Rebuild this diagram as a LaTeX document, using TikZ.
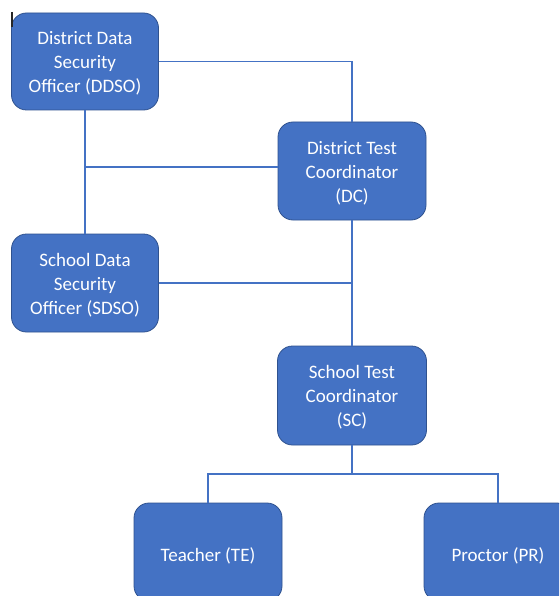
\documentclass[tikz,border=0pt]{standalone}
\usepackage{fontspec}
\setmainfont{Carlito}
\definecolor{boxblue}{HTML}{4472C4}
\definecolor{boxedge}{HTML}{2F528F}
\definecolor{linkblue}{HTML}{4472C4}
\begin{document}
\begin{tikzpicture}[x=1pt,y=-1pt,
  rolebox/.style={draw=boxedge, line width=0.8pt, fill=boxblue, rounded corners=15pt,
    inner sep=0pt},
  roletext/.style={text=white, align=center, inner sep=0pt, yshift=-2pt,
    font=\fontsize{19}{24}\selectfont},
  link/.style={draw=linkblue, line width=1.4pt}]
\useasboundingbox (0,0) rectangle (559,596);
\clip (0,0) rectangle (559,596);
\fill[white] (0,0) rectangle (559,596);
\node[rolebox, minimum width=147pt, minimum height=97pt] (ddso) at (85,61.5) {};
\node[rolebox, minimum width=148pt, minimum height=98pt] (dc) at (352,171) {};
\node[rolebox, minimum width=147pt, minimum height=98pt] (sdso) at (85,283) {};
\node[rolebox, minimum width=149pt, minimum height=99pt] (sc) at (352,395.5) {};
\node[rolebox, minimum width=148pt, minimum height=98pt] (te) at (208,552) {};
\node[rolebox, minimum width=148pt, minimum height=98pt] (pr) at (498,552) {};
\node[roletext] (ddsot) at (ddso.center) {District Data\\Security\\Officer (DDSO)};
\node[roletext] (dct) at (dc.center) {District Test\\Coordinator\\(DC)};
\node[roletext] (sdsot) at (sdso.center) {School Data\\Security\\Officer (SDSO)};
\node[roletext] (sct) at (sc.center) {School Test\\Coordinator\\(SC)};
\node[roletext, yshift=-2pt] (tet) at (te.center) {Teacher (TE)};
\node[roletext, yshift=-2pt] (prt) at (pr.center) {Proctor (PR)};
\coordinate (j1) at (85,167);
\coordinate (j2) at (352,474);
\draw[link] (ddso.east) -| (dc.north);
\draw[link] (ddso.south) -- (sdso.north);
\draw[link] (j1) -- (j1 -| dc.west);
\draw[link] (dc.south) -- (sc.north);
\draw[link] (sdso.east) -- (sdso.east -| dc.south);
\draw[link] (sc.south) -- (j2);
\draw[link] (te.north) |- (j2) -| (pr.north);
\draw[black!85, line width=1.1pt] (12,12) -- (12,27);
\end{tikzpicture}
\end{document}
